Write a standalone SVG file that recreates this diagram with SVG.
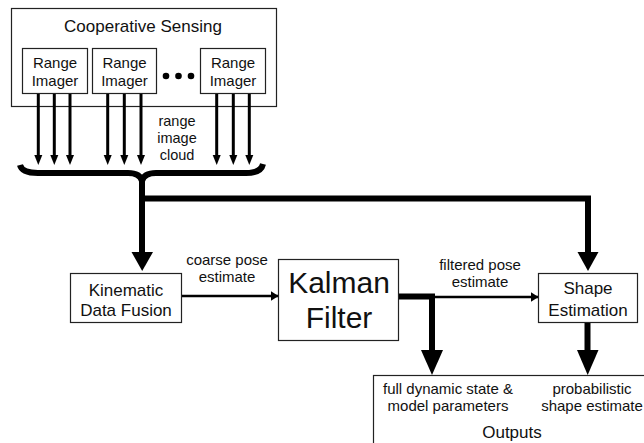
<svg xmlns="http://www.w3.org/2000/svg" width="644" height="443" viewBox="0 0 644 443">
<style>
.box{fill:#fff;stroke:#222;stroke-width:1.2}
.t{font-family:"Liberation Sans",Arial,sans-serif;fill:#111;text-anchor:middle}
.lab{font-size:17px}
.sm{font-size:15px}
.thin{stroke:#000;stroke-width:3;fill:none}
.thick{stroke:#000;stroke-width:6;fill:none}
</style>
<defs>
<marker id="ah" markerWidth="8" markerHeight="10" refX="7.5" refY="5" orient="auto" markerUnits="userSpaceOnUse">
<path d="M0,0 L8,5 L0,10 Z" fill="#000"/>
</marker>
</defs>
<rect width="644" height="443" fill="#fff"/>
<g id="cooperative-sensing">
<rect class="box" x="11.5" y="8.5" width="265" height="98"/>
<text class="t lab" x="143" y="32">Cooperative Sensing</text>
</g>
<g id="range-imager-1">
<rect class="box" x="22.5" y="48.5" width="65" height="45"/>
<text class="t sm" x="55" y="68">Range</text>
<text class="t sm" x="55" y="86">Imager</text>
</g>
<g id="range-imager-2">
<rect class="box" x="92.5" y="48.5" width="64" height="45"/>
<text class="t sm" x="124.5" y="68">Range</text>
<text class="t sm" x="124.5" y="86">Imager</text>
</g>
<g id="dots">
<circle cx="166" cy="76" r="3.3" fill="#000"/>
<circle cx="178.5" cy="76" r="3.3" fill="#000"/>
<circle cx="191" cy="76" r="3.3" fill="#000"/>
</g>
<g id="range-imager-3">
<rect class="box" x="200.5" y="48.5" width="65" height="45"/>
<text class="t sm" x="233" y="68">Range</text>
<text class="t sm" x="233" y="86">Imager</text>
</g>
<g id="kinematic-data-fusion">
<rect class="box" x="70.5" y="273.5" width="111" height="49"/>
<text class="t lab" x="126" y="295.5">Kinematic</text>
<text class="t lab" x="126" y="316">Data Fusion</text>
</g>
<g id="kalman-filter">
<rect class="box" x="278.5" y="259.5" width="120" height="81"/>
<text class="t" style="font-size:30px" x="339" y="293">Kalman</text>
<text class="t" style="font-size:30px" x="339" y="328">Filter</text>
</g>
<g id="shape-estimation">
<rect class="box" x="538.5" y="273.5" width="99" height="49"/>
<text class="t lab" x="588" y="294">Shape</text>
<text class="t lab" x="588" y="315.5">Estimation</text>
</g>
<g id="outputs">
<rect class="box" x="373.5" y="375.5" width="290" height="90"/>
<text class="t sm" x="448" y="394">full dynamic state &amp;</text>
<text class="t sm" x="448" y="411">model parameters</text>
<text class="t sm" x="592" y="394">probabilistic</text>
<text class="t sm" x="592" y="411">shape estimate</text>
<text class="t lab" x="512" y="438">Outputs</text>
</g>
<g id="connectors">
<g class="thin">
<line x1="38.3" y1="94" x2="38.3" y2="156"/>
<line x1="54.3" y1="94" x2="54.3" y2="156"/>
<line x1="70" y1="94" x2="70" y2="156"/>
<line x1="107.7" y1="94" x2="107.7" y2="156"/>
<line x1="124.3" y1="94" x2="124.3" y2="156"/>
<line x1="141" y1="94" x2="141" y2="156"/>
<line x1="216.7" y1="94" x2="216.7" y2="156"/>
<line x1="233.3" y1="94" x2="233.3" y2="156"/>
<line x1="249.3" y1="94" x2="249.3" y2="156"/>
</g>
<g fill="#000">
<path d="M34.3,155 L42.3,155 L38.3,165 Z"/>
<path d="M50.3,155 L58.3,155 L54.3,165 Z"/>
<path d="M66,155 L74,155 L70,165 Z"/>
<path d="M103.7,155 L111.7,155 L107.7,165 Z"/>
<path d="M120.3,155 L128.3,155 L124.3,165 Z"/>
<path d="M137,155 L145,155 L141,165 Z"/>
<path d="M212.7,155 L220.7,155 L216.7,165 Z"/>
<path d="M229.3,155 L237.3,155 L233.3,165 Z"/>
<path d="M245.3,155 L253.3,155 L249.3,165 Z"/>
</g>
<text class="t" style="font-size:14.5px" x="177" y="126">range</text>
<text class="t" style="font-size:14.5px" x="177" y="143">image</text>
<text class="t" style="font-size:14.5px" x="177" y="160">cloud</text>
<path class="thick" d="M20,165 Q22,173 38,173 L128,173 Q140,173 142,181 Q144,173 156,173 L246,173 Q261,173 263,164"/>
<path class="thick" d="M142,178 L142,254"/>
<path d="M131.5,252 L153,252 L142.2,271 Z" fill="#000"/>
<path class="thick" d="M142,198.5 L588,198.5 L588,254" stroke-linejoin="miter"/>
<path d="M577.5,252 L598.5,252 L588,271 Z" fill="#000"/>
<line x1="182" y1="296" x2="278" y2="296" stroke="#000" stroke-width="2.5" marker-end="url(#ah)"/>
<text class="t sm" x="227" y="265">coarse pose</text>
<text class="t sm" x="227" y="282">estimate</text>
<path class="thick" d="M399,296.5 L432,296.5 L432,352"/>
<path d="M421,350 L443,350 L432,375 Z" fill="#000"/>
<line x1="432" y1="297" x2="538" y2="297" stroke="#000" stroke-width="2.5" marker-end="url(#ah)"/>
<text class="t sm" x="480" y="270">filtered pose</text>
<text class="t sm" x="480" y="287">estimate</text>
<path class="thick" d="M587.5,323 L587.5,352"/>
<path d="M577,350 L598.5,350 L587.7,375 Z" fill="#000"/>
</g>
</svg>
